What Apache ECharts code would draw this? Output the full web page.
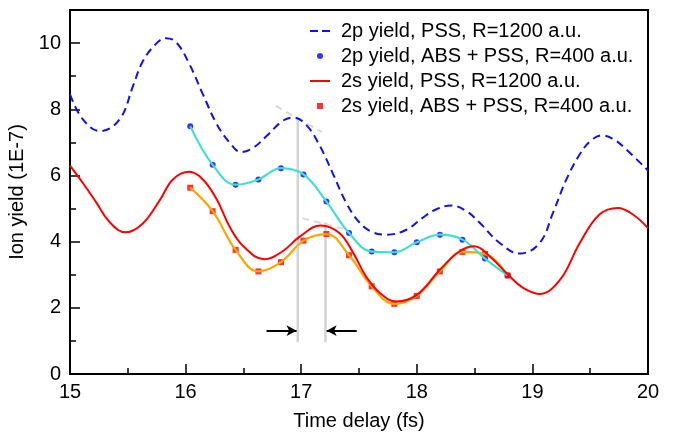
<!DOCTYPE html>
<html><head><meta charset="utf-8">
<script src="https://cdn.jsdelivr.net/npm/echarts@6/dist/echarts.min.js"></script>
<style>html,body{margin:0;padding:0;background:#fff}#c{width:676px;height:432px}</style>
</head><body><div id="c"></div>
<script>
// ---- data ----
const seriesNames = [
  '2p yield, PSS, R=1200 a.u.',
  '2p yield, ABS + PSS, R=400 a.u.',
  '2s yield, PSS, R=1200 a.u.',
  '2s yield, ABS + PSS, R=400 a.u.'
];
const xTickLabels = [15, 16, 17, 18, 19, 20];
const yTickLabels = [0, 2, 4, 6, 8, 10];

const p2PssT = [15.00,15.11,15.26,15.43,15.545,15.63,15.75,15.83,15.92,16.035,16.15,16.27,16.38,16.48,16.59,16.70,16.84,16.93,17.045,17.16,17.275,17.39,17.506,17.62,17.74,17.91,18.05,18.17,18.30,18.43,18.544,18.717,18.89,19.063,19.178,19.294,19.41,19.505,19.605,19.71,19.81,20.00];
const p2PssV = [8.45,7.70,7.34,7.70,8.70,9.45,10.0,10.15,10.02,9.35,8.45,7.55,7.00,6.71,6.85,7.19,7.65,7.75,7.52,6.90,6.05,5.17,4.57,4.28,4.21,4.36,4.72,4.98,5.09,4.92,4.57,3.96,3.64,3.96,4.87,5.88,6.64,7.05,7.21,7.08,6.79,6.15];

const s2PssT = [15.00,15.11,15.23,15.34,15.48,15.63,15.78,15.89,16.03,16.15,16.27,16.38,16.50,16.68,16.84,16.99,17.17,17.33,17.45,17.56,17.68,17.82,18.00,18.20,18.37,18.50,18.63,18.79,18.92,19.06,19.24,19.41,19.58,19.74,19.87,20.00];
const s2PssV = [6.30,5.78,5.17,4.60,4.28,4.55,5.27,5.88,6.11,5.88,5.27,4.46,3.86,3.47,3.71,4.16,4.49,4.26,3.66,2.95,2.45,2.19,2.39,3.15,3.71,3.86,3.56,3.00,2.60,2.42,2.85,3.96,4.82,5.02,4.82,4.41];

const absT   = [16.04,16.234,16.433,16.63,16.825,17.02,17.218,17.414,17.61,17.806,18.00,18.20,18.395,18.59,18.786];
const p2AbsV = [7.49,6.32,5.72,5.88,6.22,6.03,5.21,4.26,3.70,3.68,3.98,4.21,4.06,3.49,2.98];
const s2AbsV = [5.63,4.92,3.75,3.10,3.38,4.03,4.23,3.59,2.65,2.12,2.36,3.10,3.69,3.63,2.98];

// annotation (data coordinates)
const markerT    = [16.97, 17.21];
const markerTop  = [7.76, 4.58];
const markerBase = 0.96;
const tangent1T = [16.78, 17.18], tangent1V = [8.10, 7.31];
const tangent2T = [17.01, 17.36], tangent2V = [4.71, 4.39];
const arrowV = 1.31;
const arrowLeftT  = [16.70, 16.96];
const arrowRightT = [17.48, 17.22];

// ---- build ----
const pairs = (t, v) => t.map((x, i) => [x, v[i]]);
const FONT = 'Liberation Sans, Arial, Helvetica, sans-serif';
const chart = echarts.init(document.getElementById('c'), null, {renderer: 'canvas'});
const gray = '#d4d4d4';
const blue = '#1010f0';
const SM = 0.4;

const option = {
  animation: false,
  textStyle: {fontFamily: FONT, color: '#000'},
  grid: {left: 70, right: 28, top: 10, bottom: 58, show: true, borderColor: '#000', borderWidth: 2,
    backgroundColor: 'transparent', containLabel: false, outerBoundsMode: 'none'},
  legend: {
    orient: 'vertical', left: 310, top: 21, padding: 0,
    itemWidth: 20, itemHeight: 6, itemGap: 5,
    textStyle: {fontSize: 20, color: '#000', fontFamily: FONT, padding: [0, 0, 0, 6]},
    data: [
      {name: seriesNames[0], icon: 'path://M0,0L8,0L8,2L0,2Z M12,0L20,0L20,2L12,2Z', itemStyle: {color: blue}},
      {name: seriesNames[1], icon: 'circle'},
      {name: seriesNames[2], icon: 'path://M0,0L20,0L20,2L0,2Z', itemStyle: {color: '#ff0000'}},
      {name: seriesNames[3], icon: 'path://M0,0L1,0L1,1L0,1Z'}
    ]
  },
  xAxis: {
    type: 'value', min: xTickLabels[0], max: xTickLabels[xTickLabels.length - 1], interval: 1,
    name: 'Time delay (fs)', nameLocation: 'middle', nameGap: 37,
    nameTextStyle: {fontSize: 20, color: '#000', fontFamily: FONT},
    axisLine: {lineStyle: {color: '#000', width: 2}},
    axisTick: {inside: true, length: 10, lineStyle: {color: '#000', width: 1.5}},
    minorTick: {show: true, splitNumber: 2, length: 6, lineStyle: {color: '#000', width: 1.5}},
    axisLabel: {fontSize: 20, color: '#000', margin: 8, fontFamily: FONT},
    splitLine: {show: false}, minorSplitLine: {show: false}
  },
  yAxis: [{
    type: 'value', min: 0, max: 11, interval: 2,
    name: 'Ion yield (1E-7)', nameLocation: 'middle', nameGap: 36,
    nameTextStyle: {fontSize: 20, color: '#000', fontFamily: FONT},
    axisLine: {show: true, lineStyle: {color: '#000', width: 2}},
    axisTick: {inside: true, length: 10, lineStyle: {color: '#000', width: 1.5}},
    axisLabel: {fontSize: 20, color: '#000', margin: 9, fontFamily: FONT,
      formatter: v => (yTickLabels.indexOf(v) >= 0 ? String(v) : '')},
    splitLine: {show: false}
  }, {
    type: 'value', min: 0, max: 11, interval: 1, position: 'left', offset: 0,
    axisLine: {show: false},
    axisTick: {inside: true, length: 6, lineStyle: {color: '#000', width: 1.5}},
    axisLabel: {show: false}, splitLine: {show: false}
  }],
  series: [
    // annotation markers
    {type: 'line', name: 'marker1', data: [[markerT[0], markerBase], [markerT[0], markerTop[0]]], symbol: 'none', silent: true,
      lineStyle: {color: gray, width: 2.5}, z: 1,
      markLine: {silent: true, symbol: ['none', 'arrow'], symbolSize: [8, 10], label: {show: false},
        lineStyle: {color: '#000', width: 2, type: 'solid'},
        data: [
          [{coord: [arrowLeftT[0], arrowV]}, {coord: [arrowLeftT[1], arrowV]}],
          [{coord: [arrowRightT[0], arrowV]}, {coord: [arrowRightT[1], arrowV]}]
        ]}},
    {type: 'line', name: 'marker2', data: [[markerT[1], markerBase], [markerT[1], markerTop[1]]], symbol: 'none', silent: true,
      lineStyle: {color: gray, width: 2.5}, z: 1},
    {type: 'line', name: 'tangent1', data: pairs(tangent1T, tangent1V), symbol: 'none', silent: true,
      lineStyle: {color: '#d8d8d8', width: 2, type: [7, 5]}, z: 1},
    {type: 'line', name: 'tangent2', data: pairs(tangent2T, tangent2V), symbol: 'none', silent: true,
      lineStyle: {color: '#d8d8d8', width: 2, type: [7, 5]}, z: 1},
    // main curves
    {type: 'line', name: seriesNames[0], data: pairs(p2PssT, p2PssV), smooth: SM, symbol: 'none',
      lineStyle: {color: blue, width: 2, type: [8, 5]}, itemStyle: {color: blue}},
    {type: 'line', name: '2s fit', data: pairs(absT, s2AbsV), smooth: SM, symbol: 'none',
      lineStyle: {color: '#ffa500', width: 2.2}},
    {type: 'line', name: '2p fit', data: pairs(absT, p2AbsV), smooth: SM, symbol: 'none',
      lineStyle: {color: '#40e0d0', width: 2.2}},
    {type: 'line', name: seriesNames[2], data: pairs(s2PssT, s2PssV), smooth: SM, symbol: 'none',
      lineStyle: {color: '#ff0000', width: 2}, itemStyle: {color: '#ff0000'}},
    {type: 'scatter', name: seriesNames[1], data: pairs(absT, p2AbsV), symbol: 'circle', symbolSize: 6,
      itemStyle: {color: '#0000ff'}},
    {type: 'scatter', name: seriesNames[3], data: pairs(absT, s2AbsV), symbol: 'rect', symbolSize: 6,
      itemStyle: {color: '#ff0000'}}
  ]
};
chart.setOption(option);
</script>
</body></html>
